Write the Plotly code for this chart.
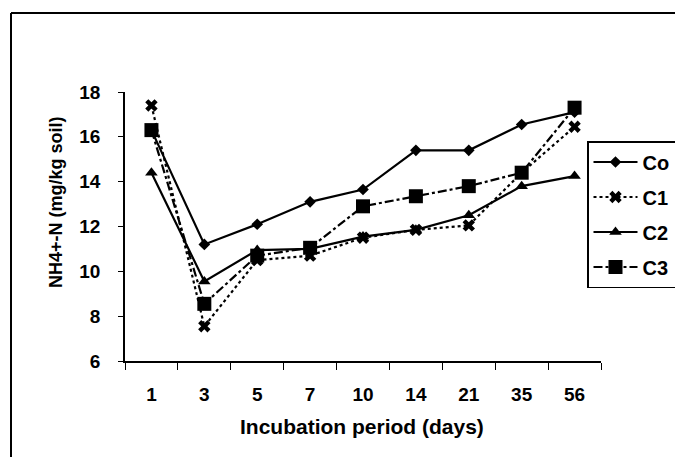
import plotly.graph_objects as go

days = ["1", "3", "5", "7", "10", "14", "21", "35", "56"]
co = [16.3, 11.2, 12.1, 13.1, 13.65, 15.4, 15.4, 16.55, 17.1]
c1 = [17.4, 7.55, 10.5, 10.7, 11.5, 11.85, 12.05, 14.4, 16.45]
c2 = [14.4, 9.55, 10.95, 11.0, 11.55, 11.85, 12.5, 13.8, 14.25]
c3 = [16.3, 8.55, 10.7, 11.05, 12.9, 13.35, 13.8, 14.4, 17.3]

W, H = 683, 457
L, R, T, B = 117, 593, 84, 353

def px(x):
    return (x - L) / (R - L)

def py(y):
    return (B - y) / (B - T)

fig = go.Figure()
series = [
    ("Co", co, "diamond", 9, "solid"),
    ("C1", c1, "x", 11, "dot"),
    ("C2", c2, "triangle-up", 11, "solid"),
    ("C3", c3, "square", 14, "dashdot"),
]
for i, (name, vals, sym, sz, dash) in enumerate(series):
    fig.add_trace(go.Scatter(
        x=days, y=vals, name=name, mode="lines+markers",
        line=dict(color="black", width=2.2, dash=dash),
        marker=dict(symbol=sym, size=sz, color="black"),
        legendgroup=name,
    ))

font_b = "Liberation Sans"
fig.update_layout(
    width=W, height=H,
    margin=dict(l=L, r=W - R, t=T, b=H - B),
    paper_bgcolor="white", plot_bgcolor="white",
    showlegend=True,
    legend=dict(
        x=px(579), y=py(133), xanchor="left", yanchor="top",
        bordercolor="black", borderwidth=1.5,
        font=dict(family=font_b, size=20, color="black", weight="bold"),
        tracegroupgap=6, itemwidth=44,
    ),
    xaxis=dict(
        type="category", range=[-0.5, 8.5],
        showline=True, linecolor="black", linewidth=1.5,
        ticks="outside", tickson="boundaries", ticklen=7, tickcolor="black",
        tickfont=dict(family=font_b, size=19, color="black", weight="bold"),
        ticklabelstandoff=15, showgrid=False, zeroline=False,
    ),
    yaxis=dict(
        range=[6, 18], tickvals=[6, 8, 10, 12, 14, 16, 18],
        showline=True, linecolor="black", linewidth=1.5,
        ticks="outside", ticklen=5, tickcolor="black",
        tickfont=dict(family=font_b, size=19, color="black", weight="bold"),
        ticklabelstandoff=14, showgrid=False, zeroline=False,
    ),
    annotations=[
        dict(text="NH4+-N (mg/kg soil)", x=px(36), y=py(194), xref="paper", yref="paper",
             textangle=-90, showarrow=False,
             font=dict(family=font_b, size=18, color="black", weight="bold")),
        dict(text="Incubation period (days)", x=px(354), y=py(432), xref="paper", yref="paper",
             showarrow=False,
             font=dict(family=font_b, size=21, color="black", weight="bold")),
    ],
    shapes=[
        dict(type="line", xref="paper", yref="paper", x0=px(3), x1=px(3), y0=py(5), y1=py(470),
             line=dict(color="black", width=2)),
        dict(type="line", xref="paper", yref="paper", x0=px(3), x1=px(700), y0=py(5), y1=py(5),
             line=dict(color="black", width=2)),
    ],
)

fig.write_html("out.html")
